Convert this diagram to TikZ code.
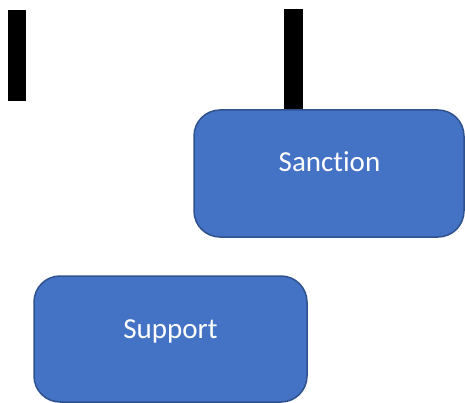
\documentclass[tikz,border=0pt]{standalone}
\usepackage{fontspec}
\setmainfont[Ligatures={NoCommon}]{Carlito}
\definecolor{boxfill}{HTML}{4472C4}
\definecolor{boxline}{HTML}{2F528F}
\tikzset{
  roundbox/.style={draw=boxline, line width=1.5pt, fill=boxfill, rounded corners=26pt, inner sep=0pt},
  boxtext/.style={text=white, anchor=base, inner sep=0pt, font=\fontsize{29}{35}\selectfont},
  bar/.style={line width=18.5pt, black}
}
\begin{document}
\begin{tikzpicture}[x=1pt, y=-1pt]
\useasboundingbox (0,0) rectangle (465,403);
% bars
\coordinate (b1top) at (17,10);
\coordinate (b1bot) at (17,101);
\coordinate (b2top) at (293.5,9);
\coordinate (b2bot) at (293.5,111);
\draw[bar] (b1top) -- (b1bot);
\draw[bar] (b2top) -- (b2bot);
% boxes
\node[roundbox, minimum width=270pt, minimum height=127pt] (sanction) at (329,173.5) {};
\node[roundbox, minimum width=273pt, minimum height=126pt] (support) at (170.5,339) {};
\node[boxtext] (sanctiontext) at (329.5,171.7) {Sanction};
\node[boxtext] (supporttext) at (170.5,338) {Support};
\end{tikzpicture}
\end{document}
